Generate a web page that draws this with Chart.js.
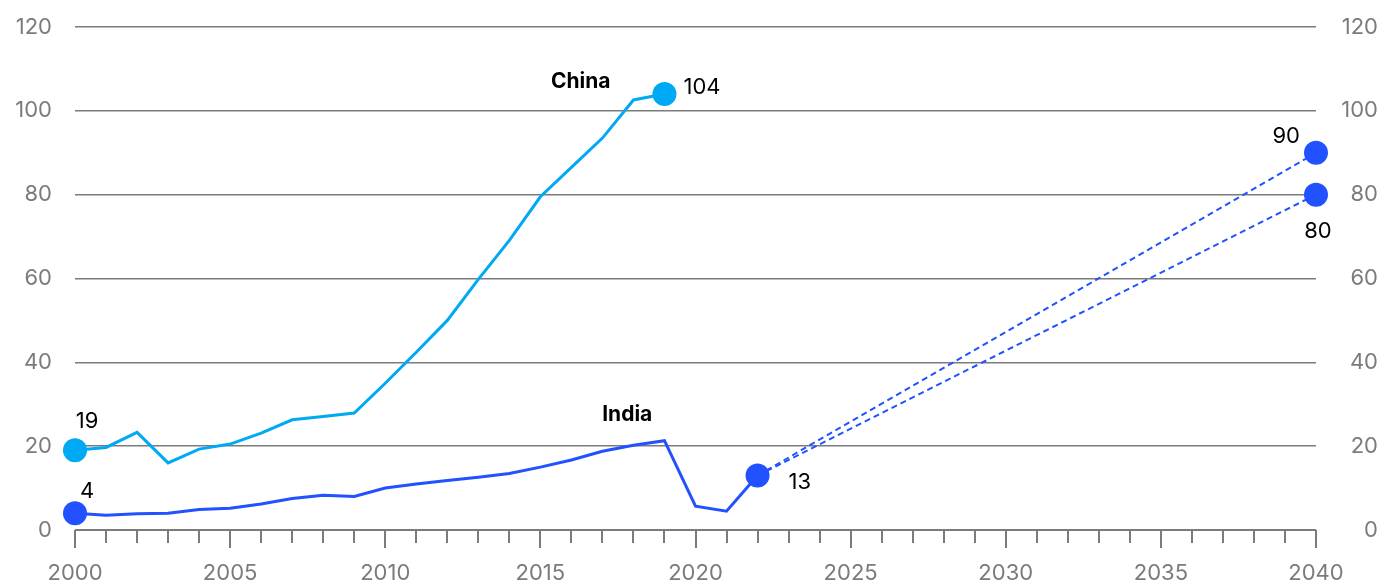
<!DOCTYPE html>
<html lang="en">
<head>
    <meta charset="UTF-8">
    <title>China vs India</title>
    <script src="https://cdn.jsdelivr.net/npm/chart.js"></script>
    <style>
        html, body { margin: 0; padding: 0; background: #fff; overflow: hidden; }
        #wrap { position: relative; width: 1381px; height: 587px; }
    </style>
</head>
<body>
    <div id="wrap"><canvas id="chart"></canvas></div>

    <script>
        // values read per year
        const chinaYears = [2000, 2001, 2002, 2003, 2004, 2005, 2006, 2007, 2008, 2009,
                            2010, 2011, 2012, 2013, 2014, 2015, 2016, 2017, 2018, 2019];
        const chinaValues = [19, 19.7, 23.3, 16, 19.3, 20.5, 23.1, 26.3, 27.1, 27.9,
                             35, 42.4, 50, 59.8, 69.1, 79.5, 86.5, 93.5, 102.6, 104];

        const indiaYears = [2000, 2001, 2002, 2003, 2004, 2005, 2006, 2007, 2008, 2009, 2010, 2011,
                            2012, 2013, 2014, 2015, 2016, 2017, 2018, 2019, 2020, 2021, 2022];
        const indiaValues = [4, 3.5, 3.9, 4, 4.9, 5.2, 6.2, 7.5, 8.3, 8, 10, 11,
                             11.8, 12.6, 13.5, 15, 16.7, 18.8, 20.2, 21.3, 5.7, 4.5, 13];

        const projYears = [2022, 2040];
        const projHigh = [13, 90];
        const projLow = [13, 80];

        const yTicks = [0, 20, 40, 60, 80, 100, 120];
        const xLabelYears = [2000, 2005, 2010, 2015, 2020, 2025, 2030, 2035, 2040];

        const CHINA = '#00A9F4';
        const INDIA = '#2251FF';
        const GREY = '#7b7b7b';
        const FONT = 'Inter, "Liberation Sans", sans-serif';

        const toPoints = (xs, ys) => xs.map((x, i) => ({ x: x, y: ys[i] }));
        const endDots = (n) => Array.from({ length: n }, (_, i) => (i === 0 || i === n - 1 ? 12 : 0));

        // y axes: fixed width, no extra room above/below the plot
        const fixAxis = (w) => (scale) => {
            scale.width = w;
            scale.paddingTop = 0;
            scale.paddingBottom = 0;
        };

        // year tick marks under the baseline, longer every 5 years
        const yearTicks = {
            id: 'yearTicks',
            afterDraw(chart) {
                const x = chart.scales.x, y = chart.scales.y;
                const base = y.getPixelForValue(0);
                const ctx = chart.ctx;
                ctx.save();
                ctx.strokeStyle = GREY;
                ctx.lineWidth = 2;
                for (let yr = x.min; yr <= x.max; yr++) {
                    const px = Math.round(x.getPixelForValue(yr));
                    const len = yr % 5 === 0 ? 18 : 13;
                    ctx.beginPath();
                    ctx.moveTo(px, base);
                    ctx.lineTo(px, base + len);
                    ctx.stroke();
                }
                ctx.restore();
            }
        };

        // value labels and series names
        const annotations = {
            id: 'annotations',
            afterDatasetsDraw(chart) {
                const x = chart.scales.x, y = chart.scales.y;
                const ctx = chart.ctx;
                const at = (yr, v) => [x.getPixelForValue(yr), y.getPixelForValue(v)];
                const put = (text, pos, dx, dy, align, bold) => {
                    ctx.font = (bold ? 'bold 21px ' : '22px ') + FONT;
                    ctx.textAlign = align;
                    ctx.fillText(text, pos[0] + dx, pos[1] + dy);
                };
                ctx.save();
                ctx.fillStyle = '#000';
                ctx.textBaseline = 'middle';

                const cn0 = at(chinaYears[0], chinaValues[0]);
                const cnN = at(chinaYears[chinaYears.length - 1], chinaValues[chinaValues.length - 1]);
                const in0 = at(indiaYears[0], indiaValues[0]);
                const inN = at(indiaYears[indiaYears.length - 1], indiaValues[indiaValues.length - 1]);
                const hi = at(projYears[1], projHigh[1]);
                const lo = at(projYears[1], projLow[1]);

                put(String(chinaValues[0]), cn0, 12, -29, 'center');
                put(String(indiaValues[0]), in0, 12, -22, 'center');
                put(String(chinaValues[chinaValues.length - 1]), cnN, 19, -7, 'left');
                put(String(indiaValues[indiaValues.length - 1]), inN, 31, 7, 'left');
                put(String(projHigh[1]), hi, -16, -16, 'right');
                put(String(projLow[1]), lo, 2, 37, 'center');

                put('China', at(2016.3, 107), 0, 0, 'center', true);
                put('India', at(2017.8, 27.5), 0, 0, 'center', true);
                ctx.restore();
            }
        };

        const ctx = document.getElementById('chart').getContext('2d');
        new Chart(ctx, {
            type: 'line',
            data: {
                datasets: [
                    {
                        data: toPoints(projYears, projHigh),
                        borderColor: INDIA,
                        backgroundColor: INDIA,
                        borderWidth: 2,
                        borderDash: [6, 4],
                        pointRadius: [0, 12],
                        pointHoverRadius: [0, 12],
                        pointBorderWidth: 0,
                        clip: false
                    },
                    {
                        data: toPoints(projYears, projLow),
                        borderColor: INDIA,
                        backgroundColor: INDIA,
                        borderWidth: 2,
                        borderDash: [6, 4],
                        pointRadius: [0, 12],
                        pointHoverRadius: [0, 12],
                        pointBorderWidth: 0,
                        clip: false
                    },
                    {
                        label: 'India',
                        data: toPoints(indiaYears, indiaValues),
                        borderColor: INDIA,
                        backgroundColor: INDIA,
                        borderWidth: 3,
                        pointRadius: endDots(indiaYears.length),
                        pointHoverRadius: endDots(indiaYears.length),
                        pointBorderWidth: 0,
                        clip: false
                    },
                    {
                        label: 'China',
                        data: toPoints(chinaYears, chinaValues),
                        borderColor: CHINA,
                        backgroundColor: CHINA,
                        borderWidth: 3,
                        pointRadius: endDots(chinaYears.length),
                        pointHoverRadius: endDots(chinaYears.length),
                        pointBorderWidth: 0,
                        clip: false
                    }
                ]
            },
            options: {
                responsive: true,
                maintainAspectRatio: false,
                animation: false,
                layout: { padding: { top: 27, left: 0, right: 3, bottom: 0 } },
                plugins: { legend: { display: false }, tooltip: { enabled: false } },
                scales: {
                    x: {
                        type: 'linear',
                        min: 2000,
                        max: 2040,
                        grid: { display: false, drawTicks: false },
                        border: { display: false },
                        afterBuildTicks: (scale) => {
                            scale.ticks = xLabelYears.map(v => ({ value: v }));
                        },
                        afterFit: (scale) => { scale.height = 57; },
                        ticks: {
                            autoSkip: false,
                            maxRotation: 0,
                            padding: 30,
                            color: GREY,
                            font: { family: FONT, size: 22 },
                            callback: (v) => String(v)
                        }
                    },
                    y: {
                        position: 'left',
                        min: 0,
                        max: 120,
                        afterBuildTicks: (scale) => {
                            scale.ticks = yTicks.map(v => ({ value: v }));
                        },
                        afterFit: fixAxis(75),
                        grid: {
                            color: GREY,
                            lineWidth: (c) => (c.tick && c.tick.value === 0 ? 2 : 1.5),
                            drawTicks: false
                        },
                        border: { display: false },
                        ticks: {
                            padding: 23,
                            color: GREY,
                            font: { family: FONT, size: 22 }
                        }
                    },
                    y2: {
                        position: 'right',
                        min: 0,
                        max: 120,
                        afterBuildTicks: (scale) => {
                            scale.ticks = yTicks.map(v => ({ value: v }));
                        },
                        afterFit: fixAxis(62),
                        grid: { display: false, drawTicks: false },
                        border: { display: false },
                        ticks: {
                            padding: 24,
                            crossAlign: 'far',
                            color: GREY,
                            font: { family: FONT, size: 22 }
                        }
                    }
                }
            },
            plugins: [yearTicks, annotations]
        });
    </script>
</body>
</html>
